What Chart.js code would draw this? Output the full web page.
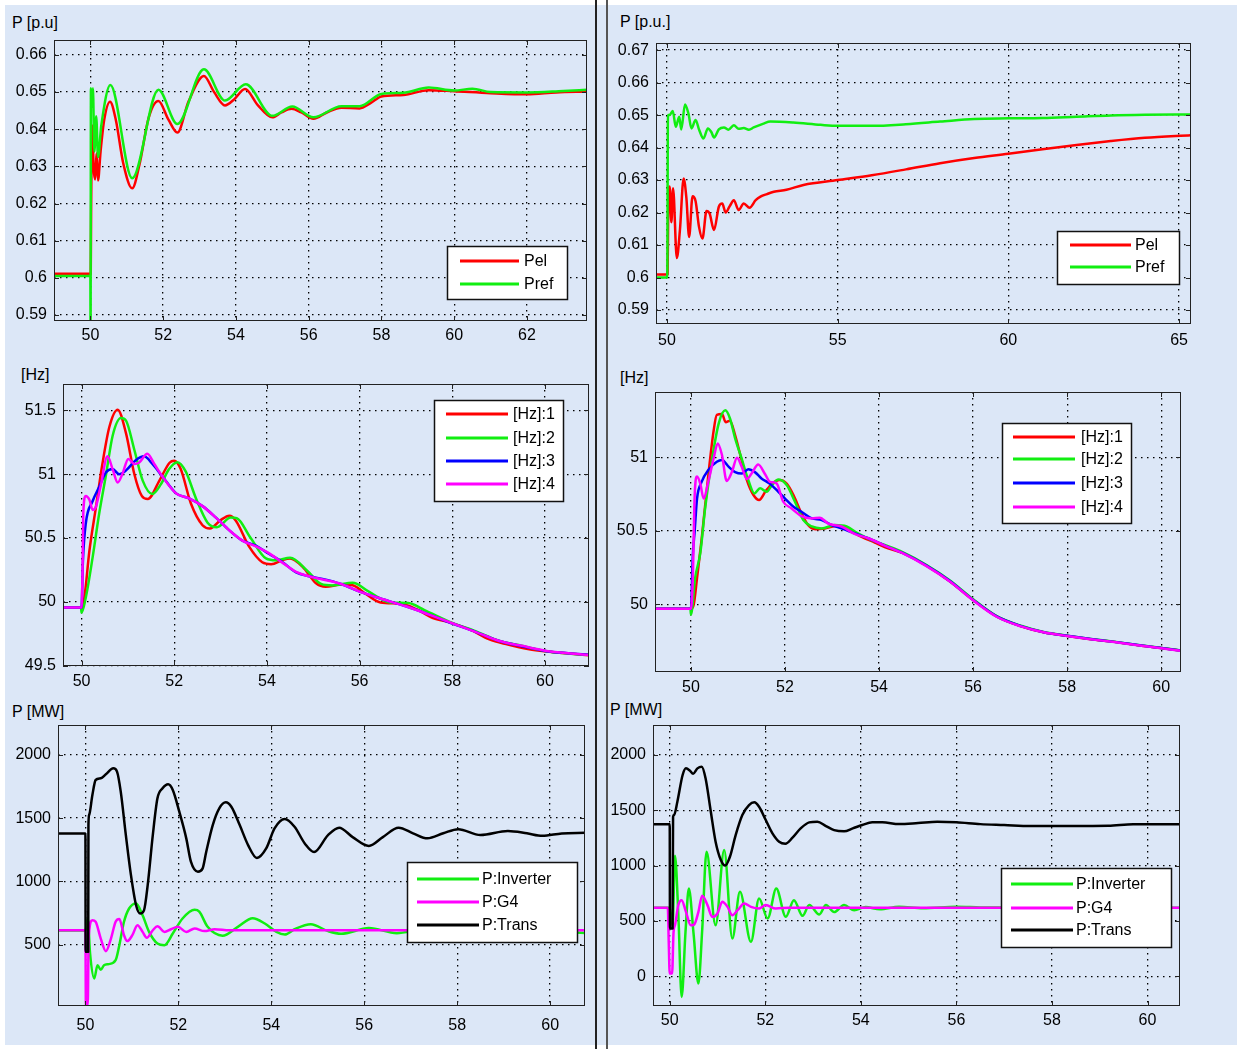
<!DOCTYPE html>
<html>
<head>
<meta charset="utf-8">
<script src="https://cdn.jsdelivr.net/npm/chart.js@4"></script>
<style>
  body { margin: 0; width: 1242px; height: 1049px; position: relative; overflow: hidden; background: #fff;
         font-family: "Liberation Sans", Arial, sans-serif; }
  .bg { position: absolute; background: #dce7f7; }
  .vline { position: absolute; top: 0; height: 1049px; }
  .lbl { position: absolute; font-size: 16px; line-height: 16px; color: #000; white-space: nowrap; }
  canvas { position: absolute; }
</style>
</head>
<body>
<div class="bg" style="left:5px;top:5px;width:1232px;height:1040px"></div>
<div class="vline" style="left:595px;width:2px;background:#222"></div>
<div class="vline" style="left:606px;width:2px;background:#555"></div>

<div class="lbl" style="left:12px;top:15px">P [p.u]</div>
<div class="lbl" style="left:620px;top:14px">P [p.u.]</div>
<div class="lbl" style="left:21px;top:367px">[Hz]</div>
<div class="lbl" style="left:620px;top:370px">[Hz]</div>
<div class="lbl" style="left:12px;top:704px">P [MW]</div>
<div class="lbl" style="left:610px;top:702px">P [MW]</div>

<script>
// ---- tick values ----
const p1XTicks = [50, 52, 54, 56, 58, 60, 62];
const p1YTicks = [0.59, 0.6, 0.61, 0.62, 0.63, 0.64, 0.65, 0.66];
const p2XTicks = [50, 55, 60, 65];
const p2YTicks = [0.59, 0.6, 0.61, 0.62, 0.63, 0.64, 0.65, 0.66, 0.67];
const hzXTicks = [50, 52, 54, 56, 58, 60];
const p3YTicks = [49.5, 50, 50.5, 51, 51.5];
const p4YTicks = [50, 50.5, 51];
const p5YTicks = [500, 1000, 1500, 2000];
const p6YTicks = [0, 500, 1000, 1500, 2000];

// ---- panel 1: P [p.u] (time, value) ----
const p1Pel = [[49.0,0.6011],[49.99,0.6011],[50.01,0.6011],[50.02,0.618],[50.05,0.641],[50.09,0.6295],[50.13,0.6265],
  [50.17,0.6335],[50.21,0.6262],[50.28,0.634],[50.38,0.6425],[50.54,0.6474],[50.7,0.6425],[50.9,0.631],[51.15,0.6241],
  [51.35,0.6305],[51.6,0.643],[51.87,0.6476],[52.15,0.6425],[52.39,0.6391],[52.7,0.6475],[53.12,0.6543],[53.4,0.650],
  [53.7,0.6464],[53.95,0.648],[54.25,0.6508],[54.6,0.6465],[55.0,0.6432],[55.25,0.6445],[55.53,0.6455],[55.8,0.6445],
  [56.13,0.6428],[56.5,0.6445],[56.9,0.6458],[57.4,0.6456],[57.7,0.647],[58.0,0.6488],[58.6,0.6492],[59.3,0.6505],
  [60.0,0.6502],[61.0,0.6497],[62.0,0.6494],[62.8,0.6499],[63.65,0.6501]];
const p1Pref = [[49.0,0.6005],[50.0,0.6005],[50.005,0.584],[50.015,0.651],[50.04,0.646],[50.07,0.651],[50.11,0.634],
  [50.16,0.6435],[50.21,0.6325],[50.3,0.641],[50.55,0.6519],[51.15,0.6268],[51.87,0.6506],[52.39,0.6414],[53.12,0.6561],
  [53.7,0.6477],[54.27,0.6521],[55.0,0.6436],[55.55,0.6461],[56.13,0.6432],[56.9,0.6462],[57.4,0.6462],[58.0,0.6495],
  [58.6,0.6498],[59.3,0.6512],[60.0,0.6504],[60.5,0.6509],[61.0,0.65],[62.0,0.6499],[63.0,0.6503],[63.65,0.6506]];

// ---- panel 2: P [p.u.] ----
const p2Pel = [[49.68,0.6009],[50.0,0.6009],[50.02,0.601],[50.04,0.6235],[50.08,0.628],[50.13,0.617],[50.18,0.6275],
  [50.29,0.606],[50.38,0.6145],[50.49,0.6305],[50.57,0.6245],[50.65,0.6125],[50.75,0.625],[50.84,0.6235],[50.94,0.6156],
  [51.04,0.612],[51.16,0.6205],[51.25,0.6197],[51.38,0.6146],[51.52,0.6218],[51.62,0.6228],[51.72,0.62],[51.84,0.622],
  [51.96,0.6238],[52.1,0.6208],[52.25,0.6228],[52.42,0.6215],[52.6,0.6238],[52.74,0.6249],[52.93,0.6257],[53.13,0.6264],
  [53.5,0.627],[54.0,0.6285],[55.0,0.63],[56.0,0.6315],[57.0,0.6333],[58.0,0.6352],[59.0,0.6368],[60.0,0.6381],
  [61.0,0.6395],[62.0,0.6408],[63.0,0.642],[64.0,0.643],[65.35,0.6438]];
const p2Pref = [[49.68,0.6],[50.0,0.6],[50.01,0.6],[50.03,0.65],[50.08,0.65],[50.17,0.6513],[50.26,0.6464],[50.36,0.6495],
  [50.42,0.6456],[50.53,0.6533],[50.63,0.6505],[50.72,0.6459],[50.84,0.6485],[50.94,0.6456],[51.07,0.6428],[51.2,0.6459],
  [51.3,0.6448],[51.38,0.6431],[51.52,0.6456],[51.67,0.6462],[51.8,0.6455],[51.96,0.6469],[52.1,0.6458],[52.25,0.646],
  [52.4,0.6455],[52.54,0.6462],[52.83,0.6474],[53.03,0.648],[53.7,0.6477],[54.5,0.647],[55.0,0.6467],[56.0,0.6467],
  [57.0,0.6472],[58.0,0.648],[59.0,0.6488],[60.0,0.649],[61.0,0.6491],[62.0,0.6495],[63.0,0.6499],[64.0,0.6501],[65.35,0.6502]];

// ---- panel 3: [Hz] ----
const p3Hz1 = [[49.6,49.955],[50.0,49.955],[50.06,50.03],[50.17,50.4],[50.31,50.74],[50.45,51.08],[50.6,51.37],[50.78,51.505],
  [50.96,51.32],[51.14,51.0],[51.3,50.83],[51.43,50.805],[51.68,50.95],[51.9,51.09],[52.0,51.105],[52.14,51.04],[52.36,50.77],
  [52.61,50.6],[52.77,50.575],[53.0,50.64],[53.19,50.675],[53.33,50.636],[53.62,50.43],[53.9,50.31],[54.09,50.295],
  [54.35,50.33],[54.5,50.34],[54.77,50.275],[55.06,50.145],[55.27,50.118],[55.6,50.135],[55.85,50.13],[56.1,50.07],
  [56.45,49.995],[56.9,49.985],[57.24,49.94],[57.57,49.875],[57.98,49.835],[58.4,49.78],[58.8,49.705],[59.2,49.665],
  [59.63,49.63],[60.0,49.612],[60.37,49.598],[60.95,49.582]];
const p3Hz2 = [[49.6,49.955],[49.99,49.955],[50.0,49.915],[50.09,50.03],[50.24,50.35],[50.38,50.69],[50.53,51.0],[50.67,51.3],
  [50.85,51.44],[50.96,51.42],[51.14,51.19],[51.32,50.95],[51.53,50.845],[51.71,50.92],[51.89,51.04],[52.07,51.094],
  [52.25,51.02],[52.47,50.81],[52.72,50.62],[52.92,50.585],[53.22,50.66],[53.35,50.655],[53.65,50.5],[53.98,50.34],
  [54.2,50.325],[54.5,50.345],[54.88,50.24],[55.17,50.14],[55.42,50.128],[55.85,50.15],[56.2,50.08],[56.65,49.995],
  [57.05,49.99],[57.4,49.935],[58.0,49.835],[58.5,49.77],[59.0,49.695],[59.5,49.655],[60.0,49.615],[60.5,49.595],[60.95,49.585]];
const p3Hz3 = [[49.6,49.955],[50.0,49.955],[50.03,50.32],[50.09,50.61],[50.24,50.79],[50.38,50.9],[50.53,51.016],[50.67,51.04],
  [50.81,51.0],[50.96,51.03],[51.17,51.11],[51.35,51.14],[51.53,51.08],[51.75,50.98],[52.04,50.85],[52.32,50.81],[52.61,50.75],
  [52.9,50.66],[53.19,50.56],[53.47,50.48],[53.76,50.44],[54.05,50.375],[54.34,50.31],[54.63,50.23],[54.91,50.2],[55.2,50.18],
  [55.6,50.14],[56.0,50.08],[56.5,50.02],[57.0,49.965],[57.5,49.9],[58.0,49.83],[58.5,49.765],[59.0,49.695],[59.5,49.652],
  [60.0,49.615],[60.5,49.597],[60.95,49.585]];
const p3Hz4 = [[49.6,49.955],[50.0,49.955],[50.02,50.2],[50.04,50.71],[50.09,50.83],[50.17,50.8],[50.24,50.72],[50.31,50.745],
  [50.42,50.92],[50.56,51.14],[50.67,51.04],[50.78,50.935],[50.88,51.0],[51.01,51.12],[51.14,51.08],[51.24,51.09],[51.42,51.16],
  [51.57,51.08],[51.75,50.98],[52.04,50.85],[52.32,50.81],[52.61,50.75],[52.9,50.66],[53.19,50.56],[53.47,50.48],[53.76,50.435],
  [54.05,50.38],[54.34,50.305],[54.63,50.235],[54.91,50.2],[55.2,50.175],[55.6,50.14],[56.0,50.08],[56.5,50.02],[57.0,49.965],
  [57.5,49.9],[58.0,49.832],[58.5,49.765],[59.0,49.695],[59.5,49.655],[60.0,49.617],[60.5,49.597],[60.95,49.583]];

// ---- panel 4: [Hz] ----
const p4Hz1 = [[49.24,49.97],[50.0,49.97],[50.06,50.0],[50.13,50.18],[50.23,50.45],[50.37,50.88],[50.48,51.175],[50.55,51.29],
  [50.66,51.295],[50.74,51.24],[50.83,51.25],[50.94,51.15],[51.05,51.016],[51.19,50.846],[51.33,50.744],[51.45,50.71],
  [51.58,50.766],[51.72,50.82],[51.89,50.846],[52.04,50.82],[52.18,50.744],[52.35,50.62],[52.49,50.54],[52.64,50.512],
  [52.85,50.517],[53.13,50.535],[53.34,50.507],[53.63,50.46],[53.91,50.42],[54.12,50.39],[54.5,50.35],[55.0,50.265],
  [55.5,50.158],[56.0,50.03],[56.5,49.918],[57.0,49.853],[57.5,49.81],[58.0,49.785],[58.5,49.763],[59.0,49.745],
  [59.5,49.722],[60.0,49.703],[60.42,49.685]];
const p4Hz2 = [[49.24,49.97],[49.99,49.97],[50.0,49.93],[50.09,50.18],[50.2,50.35],[50.3,50.65],[50.45,50.99],[50.59,51.23],
  [50.73,51.32],[50.83,51.265],[50.94,51.13],[51.08,50.99],[51.22,50.846],[51.35,50.755],[51.47,50.79],[51.61,50.766],
  [51.72,50.81],[51.86,50.85],[52.04,50.81],[52.21,50.7],[52.39,50.574],[52.57,50.53],[52.78,50.517],[53.06,50.54],
  [53.31,50.53],[53.55,50.483],[53.84,50.438],[54.12,50.404],[54.5,50.355],[55.0,50.27],[55.5,50.165],[56.0,50.035],
  [56.5,49.92],[57.0,49.856],[57.5,49.812],[58.0,49.787],[58.5,49.765],[59.0,49.746],[59.5,49.724],[60.0,49.704],[60.42,49.687]];
const p4Hz3 = [[49.24,49.97],[50.0,49.97],[50.04,50.33],[50.08,50.5],[50.13,50.72],[50.23,50.835],[50.37,50.914],[50.55,50.97],
  [50.66,50.982],[50.8,50.937],[50.94,50.9],[51.08,50.89],[51.22,50.92],[51.36,50.9],[51.5,50.857],[51.68,50.82],[51.86,50.766],
  [52.0,50.72],[52.18,50.664],[52.35,50.63],[52.57,50.585],[52.78,50.574],[52.99,50.54],[53.2,50.517],[53.48,50.483],
  [53.77,50.45],[54.12,50.4],[54.5,50.35],[55.0,50.265],[55.5,50.16],[56.0,50.03],[56.5,49.918],[57.0,49.854],[57.5,49.811],
  [58.0,49.786],[58.5,49.764],[59.0,49.745],[59.5,49.723],[60.0,49.703],[60.42,49.686]];
const p4Hz4 = [[49.24,49.97],[50.0,49.97],[50.04,50.18],[50.08,50.744],[50.13,50.87],[50.2,50.82],[50.27,50.72],[50.37,50.835],
  [50.48,50.99],[50.57,51.095],[50.66,51.016],[50.76,50.84],[50.87,50.9],[50.98,50.998],[51.08,50.937],[51.19,50.853],
  [51.29,50.89],[51.43,50.952],[51.58,50.884],[51.68,50.834],[51.82,50.823],[51.96,50.7],[52.14,50.653],[52.35,50.6],
  [52.57,50.585],[52.74,50.59],[52.92,50.55],[53.2,50.53],[53.48,50.48],[53.77,50.45],[54.12,50.4],[54.5,50.348],
  [55.0,50.262],[55.5,50.157],[56.0,50.028],[56.5,49.916],[57.0,49.852],[57.5,49.81],[58.0,49.785],[58.5,49.763],
  [59.0,49.744],[59.5,49.722],[60.0,49.702],[60.42,49.684]];

// ---- panel 5: P [MW] ----
const p5Inv = [[49.41,610],[50.0,610],[50.05,706],[50.1,430],[50.19,231],[50.26,336],[50.33,300],[50.4,336],[50.5,345],
  [50.65,376],[50.73,495],[50.83,680],[50.94,785],[51.09,825],[51.23,732],[51.37,600],[51.55,508],[51.7,495],[51.88,587],
  [52.09,706],[52.35,775],[52.45,760],[52.63,640],[52.95,570],[53.28,640],[53.6,708],[53.86,666],[54.11,600],[54.29,579],
  [54.5,621],[54.85,660],[55.22,606],[55.5,585],[56.1,630],[56.7,590],[57.3,622],[57.9,595],[58.5,615],[59.1,598],
  [59.7,612],[60.2,602],[60.75,592]];
const p5G4 = [[49.41,613],[50.0,613],[50.01,20],[50.05,20],[50.07,560],[50.15,693],[50.22,680],[50.33,547],[50.44,447],
  [50.55,547],[50.65,680],[50.73,701],[50.83,574],[50.9,527],[51.01,574],[51.12,653],[51.23,600],[51.32,553],[51.45,613],
  [51.55,645],[51.7,600],[51.84,621],[51.99,640],[52.17,600],[52.35,627],[52.56,606],[52.78,621],[53.1,613],[60.75,613]];
const p5Trans = [[49.41,1379],[50.0,1379],[50.005,442],[50.06,442],[50.065,1445],[50.08,1525],[50.15,1683],[50.22,1802],
  [50.33,1815],[50.44,1847],[50.6,1894],[50.68,1868],[50.76,1710],[50.87,1366],[50.98,1049],[51.09,811],[51.18,745],
  [51.26,770],[51.34,970],[51.45,1366],[51.55,1657],[51.66,1736],[51.78,1768],[51.88,1723],[52.02,1551],[52.17,1340],
  [52.27,1155],[52.42,1076],[52.52,1100],[52.6,1234],[52.74,1445],[52.88,1577],[53.02,1625],[53.14,1590],[53.32,1445],
  [53.5,1287],[53.69,1185],[53.89,1260],[54.07,1419],[54.29,1493],[54.5,1432],[54.72,1300],[54.92,1232],[55.22,1366],
  [55.46,1424],[55.75,1350],[56.1,1280],[56.4,1350],[56.74,1424],[57.05,1380],[57.36,1340],[57.7,1380],[58.02,1413],
  [58.5,1366],[59.09,1398],[59.5,1380],[59.83,1360],[60.25,1379],[60.75,1384]];

// ---- panel 6: P [MW] ----
const p6Inv = [[49.65,618],[50.0,618],[50.03,540],[50.06,460],[50.11,1090],[50.18,560],[50.25,-187],[50.33,400],[50.4,793],
  [50.5,380],[50.6,-66],[50.68,420],[50.77,1125],[50.96,461],[51.14,1140],[51.31,341],[51.47,763],[51.7,311],[51.87,703],
  [52.05,522],[52.23,793],[52.43,537],[52.6,688],[52.78,546],[52.92,643],[53.13,558],[53.27,643],[53.44,580],[53.65,643],
  [53.86,597],[54.1,625],[54.4,605],[54.8,628],[55.3,615],[56.0,628],[56.5,622],[57.0,620],[58.0,618],[60.68,618]];
const p6G4 = [[49.65,618],[49.96,618],[49.98,300],[50.0,24],[50.05,24],[50.08,400],[50.11,461],[50.18,643],[50.25,688],
  [50.34,582],[50.44,461],[50.51,467],[50.6,582],[50.68,727],[50.79,643],[50.89,537],[51.0,567],[51.1,673],[51.21,627],
  [51.31,552],[51.42,597],[51.56,658],[51.7,627],[51.87,612],[52.01,643],[52.22,612],[52.5,620],[60.68,618]];
const p6Trans = [[49.65,1373],[50.0,1373],[50.005,431],[50.06,431],[50.07,1440],[50.09,1457],[50.16,1578],[50.27,1819],
  [50.34,1879],[50.42,1860],[50.49,1830],[50.58,1879],[50.67,1894],[50.75,1789],[50.86,1487],[50.96,1216],[51.07,1050],
  [51.16,1000],[51.26,1080],[51.38,1276],[51.52,1457],[51.66,1547],[51.77,1572],[51.87,1532],[52.01,1412],[52.15,1291],
  [52.29,1216],[52.42,1198],[52.57,1252],[52.74,1336],[52.92,1391],[53.09,1397],[53.27,1357],[53.44,1321],[53.65,1310],
  [53.83,1336],[54.03,1367],[54.24,1391],[54.45,1391],[54.8,1375],[55.2,1385],[55.6,1397],[56.0,1392],[56.5,1375],
  [57.0,1367],[57.55,1358],[58.4,1358],[59.18,1360],[59.7,1373],[60.68,1373]];

const RED = '#ff0000', GREEN = '#11ee11', BLUE = '#0000ff', MAGENTA = '#ff00ff', BLACK = '#000000';

// layout of the six panels (page pixels): plot box, axis ranges, legend box
const panels = [
  { box: [54, 40, 587, 321], x: [49.0, 63.65], y: [0.5884, 0.664], xt: p1XTicks, yt: p1YTicks, xPad: 5,
    series: [['Pel', p1Pel, RED], ['Pref', p1Pref, GREEN]],
    legend: { box: [447, 246, 568, 300], lx: [460, 519], tx: 524, rows: [261, 284] } },
  { box: [656, 43, 1191, 324], x: [49.68, 65.35], y: [0.5857, 0.6722], xt: p2XTicks, yt: p2YTicks, xPad: 7,
    series: [['Pel', p2Pel, RED], ['Pref', p2Pref, GREEN]],
    legend: { box: [1057, 231, 1180, 285], lx: [1070, 1131], tx: 1135, rows: [245, 267] } },
  { box: [63, 384, 589, 666], x: [49.6, 60.95], y: [49.497, 51.707], xt: hzXTicks, yt: p3YTicks, xPad: 6,
    series: [['[Hz]:1', p3Hz1, RED], ['[Hz]:2', p3Hz2, GREEN], ['[Hz]:3', p3Hz3, BLUE], ['[Hz]:4', p3Hz4, MAGENTA]],
    legend: { box: [434, 400, 564, 502], lx: [446, 508], tx: 513, rows: [414, 438, 461, 484] } },
  { box: [655, 392, 1181, 672], x: [49.236, 60.42], y: [49.54, 51.445], xt: hzXTicks, yt: p4YTicks, xPad: 6,
    series: [['[Hz]:1', p4Hz1, RED], ['[Hz]:2', p4Hz2, GREEN], ['[Hz]:3', p4Hz3, BLUE], ['[Hz]:4', p4Hz4, MAGENTA]],
    legend: { box: [1002, 423, 1132, 524], lx: [1013, 1075], tx: 1081, rows: [437, 459, 483, 507] } },
  { box: [58, 725, 585, 1006], x: [49.41, 60.75], y: [13.5, 2237], xt: hzXTicks, yt: p5YTicks, xPad: 10,
    series: [['P:Inverter', p5Inv, GREEN], ['P:G4', p5G4, MAGENTA], ['P:Trans', p5Trans, BLACK]],
    legend: { box: [407, 862, 578, 943], lx: [417, 479], tx: 482, rows: [879, 902, 925] } },
  { box: [653, 725, 1180, 1006], x: [49.65, 60.68], y: [-269, 2271], xt: hzXTicks, yt: p6YTicks, xPad: 5,
    series: [['P:Inverter', p6Inv, GREEN], ['P:G4', p6G4, MAGENTA], ['P:Trans', p6Trans, BLACK]],
    legend: { box: [1001, 868, 1172, 948], lx: [1011, 1073], tx: 1076, rows: [884, 908, 930] } }
];

const FONT = '"Liberation Sans", Arial, sans-serif';

// box frame with inward tick marks, like the original plots
const framePlugin = {
  id: 'frame',
  afterDatasetsDraw(chart) {
    const { ctx, chartArea: a, scales } = chart;
    ctx.save();
    ctx.strokeStyle = '#222';
    ctx.lineWidth = 1;
    ctx.strokeRect(a.left + 0.5, a.top + 0.5, a.right - a.left - 1, a.bottom - a.top - 1);
    ctx.beginPath();
    scales.x.ticks.forEach(t => {
      const px = Math.round(scales.x.getPixelForValue(t.value)) + 0.5;
      ctx.moveTo(px, a.bottom); ctx.lineTo(px, a.bottom - 5);
      ctx.moveTo(px, a.top); ctx.lineTo(px, a.top + 5);
    });
    scales.y.ticks.forEach(t => {
      const py = Math.round(scales.y.getPixelForValue(t.value)) + 0.5;
      ctx.moveTo(a.left, py); ctx.lineTo(a.left + 5, py);
      ctx.moveTo(a.right, py); ctx.lineTo(a.right - 5, py);
    });
    ctx.stroke();
    ctx.restore();
  }
};

// legend box placed inside the plot
const boxLegend = {
  id: 'boxLegend',
  afterDraw(chart, args, opts) {
    const { ctx } = chart;
    const [x1, y1, x2, y2] = opts.box;
    ctx.save();
    ctx.fillStyle = '#fff';
    ctx.fillRect(x1, y1, x2 - x1, y2 - y1);
    ctx.strokeStyle = '#111';
    ctx.lineWidth = 1.5;
    ctx.strokeRect(x1 + 0.5, y1 + 0.5, x2 - x1 - 1, y2 - y1 - 1);
    ctx.font = '16px ' + FONT;
    ctx.textBaseline = 'middle';
    chart.data.datasets.forEach((ds, i) => {
      const y = opts.rows[i];
      ctx.strokeStyle = ds.borderColor;
      ctx.lineWidth = 3;
      ctx.beginPath();
      ctx.moveTo(opts.lx[0], y);
      ctx.lineTo(opts.lx[1], y);
      ctx.stroke();
      ctx.fillStyle = '#000';
      ctx.fillText(ds.label, opts.tx, y + 1);
    });
    ctx.restore();
  }
};

function makeChart(p) {
  const [L, T, R, B] = p.box;
  const cx = L - 60, cy = T - 10;
  const canvas = document.createElement('canvas');
  canvas.width = R - L + 75;
  canvas.height = B - T + 50;
  canvas.style.left = cx + 'px';
  canvas.style.top = cy + 'px';
  document.body.appendChild(canvas);

  const n = p.series.length;
  const lg = p.legend;
  const gridOpts = { color: '#000', lineWidth: 1.3, drawTicks: false };
  new Chart(canvas, {
    type: 'line',
    data: {
      datasets: p.series.map(([label, pts, color], i) => ({
        label: label,
        data: pts.map(([x, y]) => ({ x: x, y: y })),
        borderColor: color,
        borderWidth: 2.5,
        borderJoinStyle: 'round',
        borderCapStyle: 'round',
        pointRadius: 0,
        cubicInterpolationMode: 'monotone',
        fill: false,
        order: n - i
      }))
    },
    options: {
      responsive: false,
      animation: false,
      events: [],
      layout: { padding: { left: 0, top: 10, right: 15, bottom: 0 } },
      scales: {
        x: {
          type: 'linear', min: p.x[0], max: p.x[1],
          afterBuildTicks: s => { s.ticks = p.xt.map(v => ({ value: v })); },
          afterFit: s => { s.height = 40; s.paddingLeft = 0; s.paddingRight = 0; },
          ticks: { autoSkip: false, maxRotation: 0, padding: p.xPad, color: '#000',
                   font: { family: FONT, size: 16 }, callback: v => String(v) },
          grid: gridOpts,
          border: { display: false, dash: [1.5, 4.5] }
        },
        y: {
          type: 'linear', min: p.y[0], max: p.y[1],
          afterBuildTicks: s => { s.ticks = p.yt.map(v => ({ value: v })); },
          afterFit: s => { s.width = 60; s.paddingTop = 0; s.paddingBottom = 0; },
          ticks: { autoSkip: false, padding: 7, color: '#000',
                   font: { family: FONT, size: 16 }, callback: v => String(v) },
          grid: gridOpts,
          border: { display: false, dash: [1.5, 4.5] }
        }
      },
      plugins: {
        legend: { display: false },
        tooltip: { enabled: false },
        boxLegend: {
          box: [lg.box[0] - cx, lg.box[1] - cy, lg.box[2] - cx, lg.box[3] - cy],
          lx: [lg.lx[0] - cx, lg.lx[1] - cx],
          tx: lg.tx - cx,
          rows: lg.rows.map(r => r - cy)
        }
      }
    },
    plugins: [framePlugin, boxLegend]
  });
}

panels.forEach(makeChart);
</script>
</body>
</html>
